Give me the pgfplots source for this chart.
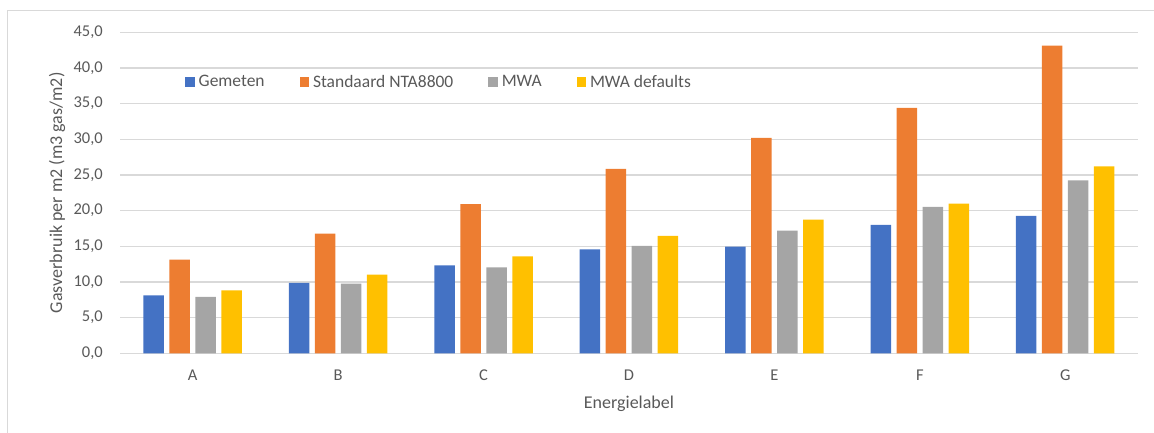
\documentclass[border=0pt]{standalone}
\usepackage{fontspec}
\setmainfont{Carlito}
\usepackage{pgfplots}
\pgfplotsset{compat=1.18}

\definecolor{cBlue}{HTML}{4472C4}
\definecolor{cOrange}{HTML}{ED7D31}
\definecolor{cGray}{HTML}{A5A5A5}
\definecolor{cYellow}{HTML}{FFC000}
\definecolor{gridGray}{HTML}{D9D9D9}
\definecolor{txtGray}{HTML}{595959}

\begin{document}
\begin{tikzpicture}
\useasboundingbox (0pt,0pt) rectangle (1154pt,432pt);
% chart area frame
\draw[gridGray, line width=1pt] (7.5pt,421.5pt) rectangle (1170pt,-20pt);
\begin{axis}[
  at={(120pt,78.7pt)}, anchor=south west,
  scale only axis, width=1018pt, height=321pt,
  ybar=5.5pt, bar width=20.5pt,
  xmin=-0.5, xmax=6.5,
  ymin=0, ymax=45,
  xtick={0,1,2,3,4,5,6},
  xticklabels={A,B,C,D,E,F,G},
  ytick={0,5,...,45},
  ymajorgrids,
  major grid style={gridGray, line width=1.2pt},
  axis x line*=bottom, axis y line*=left,
  x axis line style={gridGray, line width=1.2pt, -},
  y axis line style={draw=none},
  major tick length=0pt,
  tick label style={text=txtGray, font=\fontsize{16.5}{19}\selectfont},
  xticklabel style={anchor=base, inner sep=0pt, yshift=-27.3pt},
  yticklabel style={anchor=east, inner sep=0pt, xshift=-17pt,
    /pgf/number format/.cd, fixed, fixed zerofill, precision=1, use comma, assume math mode=true},
  xlabel={Energielabel},
  ylabel={Gasverbruik per m2 (m3 gas/m2)},
  label style={text=txtGray, font=\fontsize{18}{21}\selectfont},
  xlabel style={at={(axis description cs:0.5,-0.1723)}, anchor=base},
  ylabel style={at={(axis description cs:-0.0619,0.5)}, anchor=center},
  legend columns=4,
  legend style={at={(axis description cs:0.064,0.845)}, anchor=west,
    draw=none, fill=none, inner sep=0pt,
    font=\fontsize{17.5}{20}\selectfont, text=txtGray,
    nodes={inner sep=0pt},
    /tikz/every odd column/.append style={column sep=4pt},
    /tikz/every even column/.append style={column sep=35pt}},
  legend image code/.code={\fill[#1] (0pt,-4.7pt) rectangle (9.4pt,4.7pt);},
]
\addplot[fill=cBlue, draw=none] coordinates {(0,8.13) (1,9.86) (2,12.34) (3,14.58) (4,14.95) (5,17.99) (6,19.25)};
\addplot[fill=cOrange, draw=none] coordinates {(0,13.13) (1,16.78) (2,20.93) (3,25.84) (4,30.19) (5,34.39) (6,43.13)};
\addplot[fill=cGray, draw=none] coordinates {(0,7.90) (1,9.77) (2,12.06) (3,15.05) (4,17.20) (5,20.51) (6,24.25)};
\addplot[fill=cYellow, draw=none] coordinates {(0,8.83) (1,11.03) (2,13.60) (3,16.45) (4,18.74) (5,20.98) (6,26.21)};
\legend{Gemeten, Standaard NTA8800, MWA, MWA defaults}
\end{axis}
\end{tikzpicture}
\end{document}
